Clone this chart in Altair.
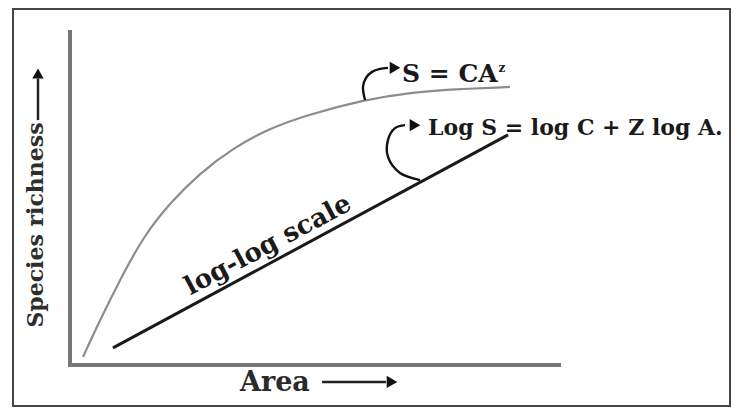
import altair as alt
import pandas as pd

# ---- data (arbitrary units: Area 0..98, Species richness 0..100) ----
curve_area = [2.6, 6.0, 10.0, 14.6, 20.0, 26.0, 32.6, 40.0, 47.4, 58.6, 68.6, 78.0, 88.0]
curve_richness = [2.4, 13.4, 25.4, 38.2, 48.4, 57.3, 64.8, 70.7, 74.6, 79.1, 81.5, 82.4, 83.0]

loglog_area = [8.6, 87.6]
loglog_richness = [5.1, 68.7]

axis_area_end = 98.2
axis_richness_end = 100.0

# annotation arrow paths
arrow1_area = [59.0, 58.6, 59.2, 60.4, 62.0, 63.6]
arrow1_rich = [79.1, 83.0, 85.7, 87.5, 88.4, 88.7]
arrow2_area = [70.0, 66.0, 63.6, 63.6, 65.0, 67.0]
arrow2_rich = [55.2, 57.3, 62.1, 67.2, 70.7, 71.6]

head_area = [65.0, 69.0, 64.4]
head_rich = [88.7, 71.6, -5.07]

labels_text = ["S = CA", "z", "Log S = log C + Z log A.", "log-log scale", "Area", "Species richness"]
labels_area = [66.4, 85.7, 71.6, 39.6, 34.0, -5.4]
labels_rich = [84.5, 87.6, 68.7, 35.8, -5.37, 41.8]

X_SCALE = alt.Scale(domain=[-12.4, 132.2], nice=False, zero=False)
Y_SCALE = alt.Scale(domain=[-12.54, 106.57], nice=False, zero=False)


def X(field):
    return alt.X(field, type="quantitative", scale=X_SCALE, axis=None)


def Y(field):
    return alt.Y(field, type="quantitative", scale=Y_SCALE, axis=None)


FONT = "DejaVu Serif"

frame = alt.Chart(pd.DataFrame({"k": [0]})).mark_rect(
    filled=False, stroke="#454545", strokeWidth=2
).encode(x=alt.value(5), x2=alt.value(722), y=alt.value(1), y2=alt.value(398))

axes_df = pd.DataFrame({
    "x": [-0.4, 0.0], "x2": [axis_area_end, 0.0],
    "y": [0.0, -0.6], "y2": [0.0, axis_richness_end],
})
axes = alt.Chart(axes_df).mark_rule(color="#777777", strokeWidth=4).encode(
    x=X("x"), x2="x2", y=Y("y"), y2="y2"
)

curve = alt.Chart(pd.DataFrame({"a": curve_area, "s": curve_richness})).mark_line(
    interpolate="basis", color="#8c8c8c", strokeWidth=2.2
).encode(x=X("a"), y=Y("s"))

loglog = alt.Chart(pd.DataFrame({"a": loglog_area, "s": loglog_richness})).mark_line(
    color="#1a1a1a", strokeWidth=3
).encode(x=X("a"), y=Y("s"))


def arrow_path(xs, ys):
    df = pd.DataFrame({"a": xs, "s": ys, "i": list(range(len(xs)))})
    return alt.Chart(df).mark_line(
        interpolate="catmull-rom", color="#111111", strokeWidth=2.4
    ).encode(x=X("a"), y=Y("s"), order=alt.Order("i:Q"))


arrow1 = arrow_path(arrow1_area, arrow1_rich)
arrow2 = arrow_path(arrow2_area, arrow2_rich)

area_arrow = alt.Chart(pd.DataFrame({"a": [50.4], "a2": [63.2], "s": [-5.07]})).mark_rule(
    color="#222222", strokeWidth=2.5
).encode(x=X("a"), x2="a2", y=Y("s"))

rich_arrow = alt.Chart(pd.DataFrame({"a": [-6.4], "s": [73.1], "s2": [85.5]})).mark_rule(
    color="#222222", strokeWidth=2.5
).encode(x=X("a"), y=Y("s"), y2="s2")

heads = alt.Chart(pd.DataFrame({"a": head_area, "s": head_rich})).mark_point(
    shape="triangle-right", filled=True, color="#111111", size=150, opacity=1
).encode(x=X("a"), y=Y("s"))

head_up = alt.Chart(pd.DataFrame({"a": [-6.4], "s": [87.0]})).mark_point(
    shape="triangle-up", filled=True, color="#111111", size=130, opacity=1
).encode(x=X("a"), y=Y("s"))

lab = pd.DataFrame({"t": labels_text, "a": labels_area, "s": labels_rich})


def label(i, size, angle=0, align="left", baseline="alphabetic", color="#1a1a1a", weight="normal"):
    return alt.Chart(lab.iloc[[i]]).mark_text(
        font=FONT, fontSize=size, angle=angle, align=align, baseline=baseline,
        color=color, fontWeight=weight
    ).encode(x=X("a"), y=Y("s"), text="t:N")


texts = [
    label(0, 25, weight="bold"),
    label(1, 12, weight="bold"),
    label(2, 22, weight="bold"),
    label(3, 26, angle=332, align="center", baseline="middle", weight="bold"),
    label(4, 27, baseline="middle", color="#2a2a2a", weight="bold"),
    label(5, 22, angle=270, align="center", color="#2e2e2e", weight="bold"),
]

chart = alt.layer(
    frame, axes, curve, loglog, arrow1, arrow2, area_arrow, rich_arrow, heads, head_up, *texts
).properties(
    width=723, height=399, padding=0,
    autosize=alt.AutoSizeParams(type="none"),
    background="white",
).configure_view(stroke=None)

chart.save("out.html", embed_options={"renderer": "svg", "actions": False})
